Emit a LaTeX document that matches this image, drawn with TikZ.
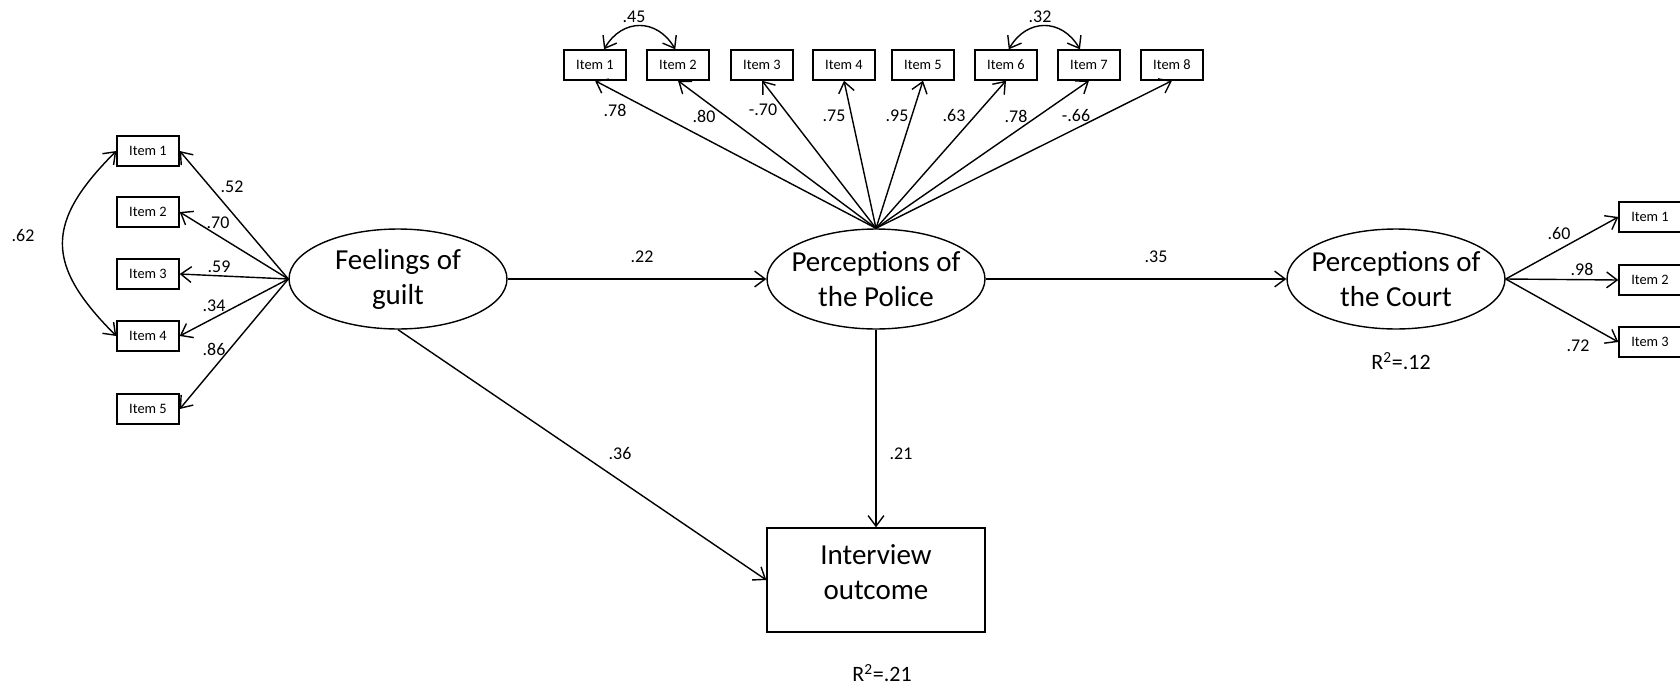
\documentclass[tikz,border=0pt]{standalone}
\usepackage{fontspec}
\setmainfont{Carlito}
\usetikzlibrary{arrows.meta, shapes}

\begin{document}
\begin{tikzpicture}[
    % GLOBAL CFG
    x=0.02cm, y=-0.02cm,
    >={Straight Barb[length=6pt,width=9pt]},
    line width=.8pt,
    % Styles
    latent/.style={% For latent factors
        ellipse,
        draw,
        minimum width=4.36cm,
        minimum height=2cm,
        inner xsep=-5pt,
        inner ysep=0pt,
        font=\fontsize{16.5}{20}\selectfont,
    },
    outcome/.style={% For observed outcome
        rectangle,
        draw,
        minimum width=4.36cm,
        minimum height=2.08cm,
        text depth=9pt,
        font=\fontsize{16.5}{20}\selectfont,
    },
    item/.style={% For indicator items
        rectangle,
        draw,
        minimum width=1.24cm,
        minimum height=.6cm,
        inner sep=1pt,
        font=\fontsize{8.2}{10}\selectfont,
    },
    weight/.style={% For path coefficients
        font=\fontsize{10.2}{12}\selectfont,
        inner sep=0pt,
    },
    rsq/.style={
        font=\fontsize{12.5}{14}\selectfont,
        inner sep=0pt,
    },
    every text node part/.style={
        align=center
    },
    ]
    \useasboundingbox (0,0) rectangle (1680,690);

    % Draw latent factors and outcome
    \node [latent] (guilt) at (398,279) {Feelings of\\guilt};
    \node [latent] (police) at (876,279) {Perceptions of\\the Police};
    \node [latent] (court) at (1396,279) {Perceptions of\\the Court};
    \node [outcome] (interview) at (876,580) {Interview\\outcome};

    % Draw items of guilt named g#
    \node [item] (g1) at (148,151) {Item 1};
    \node [item] (g2) at (148,212) {Item 2};
    \node [item] (g3) at (148,274) {Item 3};
    \node [item] (g4) at (148,336) {Item 4};
    \node [item] (g5) at (148,409) {Item 5};

    % Draw items of police named p#
    \node [item] (p1) at (595,65) {Item 1};
    \node [item] (p2) at (678,65) {Item 2};
    \node [item] (p3) at (762,65) {Item 3};
    \node [item] (p4) at (844,65) {Item 4};
    \node [item] (p5) at (923,65) {Item 5};
    \node [item] (p6) at (1006,65) {Item 6};
    \node [item] (p7) at (1089,65) {Item 7};
    \node [item] (p8) at (1172,65) {Item 8};

    % Draw items of court named c#
    \node [item] (c1) at (1650,217) {Item 1};
    \node [item] (c2) at (1650,280) {Item 2};
    \node [item] (c3) at (1650,342) {Item 3};

    % Loadings
    \foreach \i in {1,...,5}
        \draw [->] (guilt.west) -- (g\i.east);
    \foreach \i in {1,...,8}
        \draw [->] (police.north) -- (p\i.south);
    \foreach \i in {1,...,3}
        \draw [->] (court.east) -- (c\i.west);

    % Covariances
    \draw [<->] (g1.west) to[out=225, in=135, looseness=1.4] (g4.west);
    \draw [<->] (p1.60) to[out=60, in=120, looseness=1.3] (p2.100);
    \draw [<->] (p6.80) to[out=60, in=120, looseness=1.3] (p7.120);

    % Paths
    \draw [->] (guilt) -- (police);
    \draw [->] (police) -- (court);
    \draw [->] (guilt.south) -- (interview.west);
    \draw [->] (police) -- (interview);

    % Coefficients
    \node [weight] (wg1) at (232,187) {.52};
    \node [weight] (wg2) at (218,223) {.70};
    \node [weight] (wg3) at (219,267) {.59};
    \node [weight] (wg4) at (214,306) {.34};
    \node [weight] (wg5) at (214,349) {.86};
    \node [weight] (wg14) at (23,236) {.62};

    \node [weight] (wp1) at (615,110) {.78};
    \node [weight] (wp2) at (704,116) {.80};
    \node [weight] (wp3) at (763,110) {-.70};
    \node [weight] (wp4) at (834,116) {.75};
    \node [weight] (wp5) at (897,116) {.95};
    \node [weight] (wp6) at (954,116) {.63};
    \node [weight] (wp7) at (1016,116) {.78};
    \node [weight] (wp8) at (1076,116) {-.66};
    \node [weight] (wp12) at (634,17) {.45};
    \node [weight] (wp67) at (1040,17) {.32};

    \node [weight] (wc1) at (1559,234) {.60};
    \node [weight] (wc2) at (1582,269) {.98};
    \node [weight] (wc3) at (1578,346) {.72};

    \node [weight] (wgp) at (642,257) {.22};
    \node [weight] (wpc) at (1156,257) {.35};
    \node [weight] (wgi) at (620,454) {.36};
    \node [weight] (wpi) at (901,454) {.21};

    % R squared
    \node [rsq] (rcourt) at (1401,361) {R\textsuperscript{2}=.12};
    \node [rsq] (rinterview) at (882,673) {R\textsuperscript{2}=.21};

\end{tikzpicture}
\end{document}
